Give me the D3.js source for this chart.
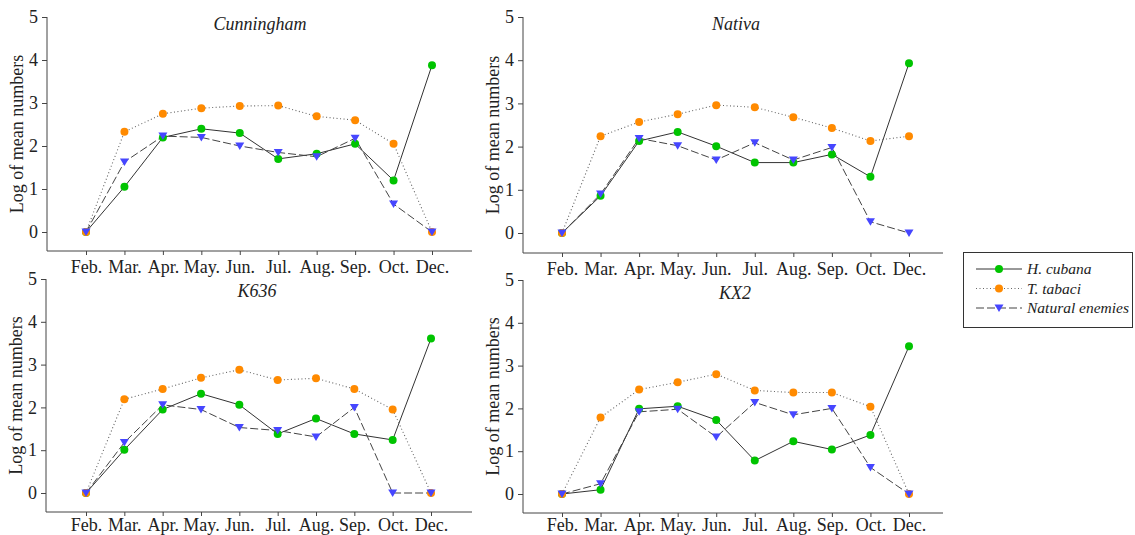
<!DOCTYPE html>
<html>
<head>
<meta charset="utf-8">
<script src="https://cdn.jsdelivr.net/npm/d3@7"></script>
<style>
  body { margin: 0; background: #fff; }
</style>
</head>
<body>
<svg id="chart" width="1135" height="535"></svg>
<script>
const months = ["Feb.", "Mar.", "Apr.", "May.", "Jun.", "Jul.", "Aug.", "Sep.", "Oct.", "Dec."];
const yTicks = [0, 1, 2, 3, 4, 5];
const cultivars = ["Cunningham", "Nativa", "K636", "KX2"];
const seriesNames = ["H. cubana", "T. tabaci", "Natural enemies"];

// log of mean numbers, one array per cultivar and series
const cunninghamCubana = [0, 1.05, 2.2, 2.4, 2.3, 1.7, 1.82, 2.05, 1.2, 3.88];
const cunninghamTabaci = [0, 2.33, 2.75, 2.88, 2.93, 2.94, 2.69, 2.6, 2.05, 0];
const cunninghamEnemies = [0, 1.63, 2.23, 2.2, 2.0, 1.85, 1.75, 2.18, 0.65, 0];

const nativaCubana = [0, 0.86, 2.13, 2.34, 2.01, 1.63, 1.63, 1.82, 1.3, 3.93];
const nativaTabaci = [0, 2.24, 2.57, 2.75, 2.96, 2.91, 2.68, 2.43, 2.13, 2.24];
const nativaEnemies = [0, 0.9, 2.19, 2.02, 1.69, 2.09, 1.69, 1.98, 0.26, 0];

const k636Cubana = [0, 1.01, 1.95, 2.32, 2.06, 1.38, 1.74, 1.38, 1.24, 3.61];
const k636Tabaci = [0, 2.19, 2.43, 2.69, 2.88, 2.64, 2.68, 2.43, 1.95, 0];
const k636Enemies = [0, 1.18, 2.06, 1.95, 1.53, 1.46, 1.31, 2.0, 0, 0];

const kx2Cubana = [0, 0.1, 1.99, 2.05, 1.73, 0.78, 1.23, 1.04, 1.38, 3.45];
const kx2Tabaci = [0, 1.79, 2.44, 2.61, 2.8, 2.42, 2.37, 2.37, 2.04, 0];
const kx2Enemies = [0, 0.24, 1.92, 1.98, 1.33, 2.14, 1.85, 2.0, 0.62, 0];

const panelValues = [
  [cunninghamCubana, cunninghamTabaci, cunninghamEnemies],
  [nativaCubana, nativaTabaci, nativaEnemies],
  [k636Cubana, k636Tabaci, k636Enemies],
  [kx2Cubana, kx2Tabaci, kx2Enemies]
];

// where each panel sits on the page
const layout = [
  { left: 47, right: 472, top: 17, zero: 232, bottom: 251, first: 86, last: 432, titleX: 260, titleY: 30, pad: 5 },
  { left: 523, right: 943, top: 17, zero: 233, bottom: 253, first: 562, last: 909, titleX: 736, titleY: 30, pad: 5 },
  { left: 46, right: 472, top: 279, zero: 493, bottom: 512, first: 86, last: 431, titleX: 257, titleY: 297, pad: 2 },
  { left: 523, right: 943, top: 280, zero: 494, bottom: 513, first: 562, last: 909, titleX: 735, titleY: 299, pad: 1 }
];

const styles = [
  { color: "#00c400", line: "#333", dash: null, width: 1, shape: "circle" },
  { color: "#ff8a00", line: "#666", dash: "1,2.5", width: 1.1, shape: "circle" },
  { color: "#4646ff", line: "#444", dash: "8,3", width: 1, shape: "triangle" }
];

const FONT = "Liberation Serif";
const FS = 18;
const svg = d3.select("#chart");
const axisColor = "#444";

function marker(sel, st) {
  if (st.shape === "circle") {
    sel.append("circle").attr("r", 4).attr("fill", st.color);
  } else {
    sel.append("path").attr("d", "M-4.5,-3.5L4.5,-3.5L0,4Z").attr("fill", st.color);
  }
}

cultivars.forEach((name, i) => {
  const L = layout[i];
  const g = svg.append("g");

  const x = d3.scalePoint().domain(months).range([L.first, L.last]);
  const y = d3.scaleLinear().domain([0, 5]).range([L.zero, L.top]);

  // y axis
  const yAxis = g.append("g")
    .attr("transform", `translate(${L.left},0)`)
    .call(d3.axisLeft(y).tickValues(yTicks).tickFormat(d3.format("d")).tickSize(5).tickPadding(4));
  yAxis.attr("font-family", FONT).attr("font-size", FS);
  yAxis.select("path.domain")
    .attr("d", `M0,${L.top}V${L.bottom}`)
    .attr("stroke", axisColor).attr("fill", "none");
  yAxis.selectAll(".tick line").attr("stroke", axisColor);
  yAxis.selectAll(".tick text").attr("fill", "#222");

  // x axis
  const xAxis = g.append("g")
    .attr("transform", `translate(0,${L.bottom})`)
    .call(d3.axisBottom(x).tickSize(4).tickPadding(L.pad));
  xAxis.attr("font-family", FONT).attr("font-size", FS);
  xAxis.select("path.domain")
    .attr("d", `M${L.left},0H${L.right}`)
    .attr("stroke", axisColor).attr("fill", "none");
  xAxis.selectAll(".tick line").attr("stroke", axisColor);
  xAxis.selectAll(".tick text").attr("fill", "#222");

  // axis label
  g.append("text")
    .attr("transform", `translate(${L.left - 24},${(L.top + L.bottom) / 2}) rotate(-90)`)
    .attr("text-anchor", "middle")
    .attr("font-family", FONT)
    .attr("font-size", FS)
    .attr("fill", "#222")
    .text("Log of mean numbers");

  // title
  g.append("text")
    .attr("x", L.titleX).attr("y", L.titleY)
    .attr("text-anchor", "middle")
    .attr("font-family", FONT)
    .attr("font-size", FS)
    .attr("font-style", "italic")
    .attr("fill", "#222")
    .text(name);

  const line = d3.line().x((d, k) => x(months[k])).y(d => y(d));

  panelValues[i].forEach((vals, s) => {
    const st = styles[s];
    g.append("path")
      .datum(vals)
      .attr("d", line)
      .attr("fill", "none")
      .attr("stroke", st.line)
      .attr("stroke-width", st.width)
      .attr("stroke-dasharray", st.dash);
  });
  panelValues[i].forEach((vals, s) => {
    const st = styles[s];
    g.selectAll(null)
      .data(vals)
      .enter().append("g")
      .attr("transform", (d, k) => `translate(${x(months[k])},${y(d)})`)
      .each(function () { marker(d3.select(this), st); });
  });
});

// legend
const leg = svg.append("g");
leg.append("rect")
  .attr("x", 963.5).attr("y", 252.5).attr("width", 169).attr("height", 75)
  .attr("fill", "#fff").attr("stroke", "#333").attr("stroke-width", 1);
seriesNames.forEach((n, s) => {
  const st = styles[s];
  const ly = 269 + s * 19.5;
  leg.append("line")
    .attr("x1", 976).attr("x2", 1022).attr("y1", ly).attr("y2", ly)
    .attr("stroke", st.line).attr("stroke-width", st.dash ? 1.2 : 1)
    .attr("stroke-dasharray", st.dash);
  const m = leg.append("g").attr("transform", `translate(999,${ly})`);
  marker(m, st);
  leg.append("text")
    .attr("x", 1027).attr("y", ly + 5)
    .attr("font-family", FONT)
    .attr("font-size", 15.5)
    .attr("font-style", "italic")
    .attr("fill", "#222")
    .text(n);
});
</script>
</body>
</html>
